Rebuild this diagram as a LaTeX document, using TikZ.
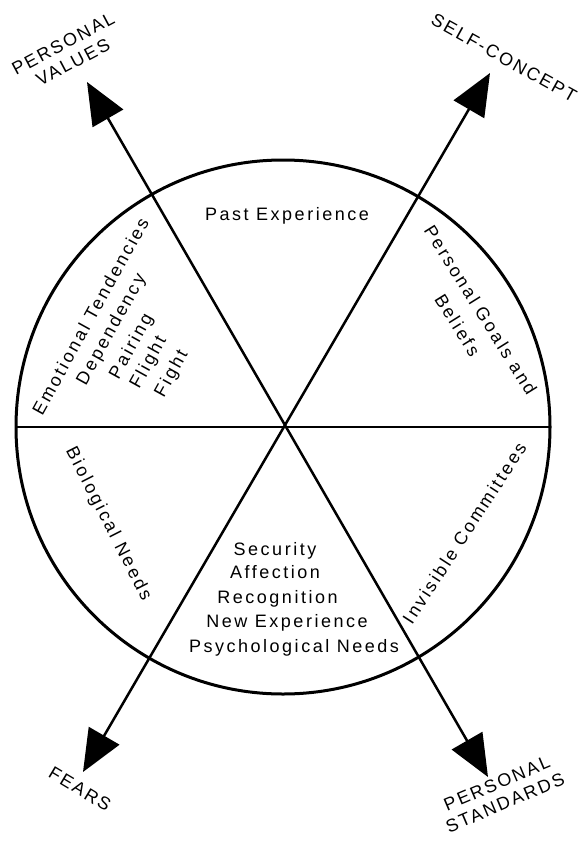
\documentclass[tikz,border=0pt]{standalone}
\usepackage{fontspec}
\setmainfont{Liberation Sans}
\newfontfamily\capsfont[LetterSpace=12]{Liberation Sans}
\newfontfamily\txtfont[LetterSpace=14]{Liberation Sans}
\usetikzlibrary{arrows.meta}
\begin{document}
\begin{tikzpicture}[x=1pt,y=-1pt,
  lbl/.style={font=\txtfont\fontsize{18}{24}\selectfont, inner sep=0pt, text height=13pt, text depth=4pt},
  caplbl/.style={font=\capsfont\fontsize{18}{21}\selectfont, inner sep=0pt, align=center},
  axisline/.style={line width=2.5pt, {Triangle[length=42pt,width=35pt]}-{Triangle[length=42pt,width=35pt]}},
]
\useasboundingbox (0,0) rectangle (581,843);
% wheel
\node[circle, draw, line width=3pt, minimum size=534pt, inner sep=0pt, outer sep=0pt] (wheel) at (283,427) {};
\draw[line width=2.6pt] (wheel.west) -- (wheel.east);
% axes
\coordinate (pv) at (87,82);
\coordinate (ps) at (488,777);
\coordinate (sc) at (490,73);
\coordinate (fe) at (83,772);
\draw[axisline] (pv) -- (ps);
\draw[axisline] (fe) -- (sc);
% outer labels
\node[caplbl, rotate=28] (pvl) at (68,53) {PERSONAL\\VALUES};
\node[caplbl, rotate=-29] (scl) at (504,58) {SELF-CONCEPT};
\node[caplbl, rotate=-31] (fel) at (80,789) {FEARS};
\node[caplbl, rotate=23] (psl) at (501,793) {PERSONAL\\STANDARDS};
% sector texts
\node[lbl, anchor=base] (past) at (287,220) {Past Experience};
\node[lbl, rotate=61] (em1) at (92,317) {Emotional Tendencies};
\node[lbl, rotate=61] (em2) at (112,330) {Dependency};
\node[lbl, rotate=61] (em3) at (132,347) {Pairing};
\node[lbl, rotate=61] (em4) at (149,363) {Flight};
\node[lbl, rotate=61] (em5) at (172,374) {Fight};
\node[lbl, rotate=-58] (pg1) at (479,311) {Personal Goals and};
\node[lbl, rotate=-58] (pg2) at (456,326) {Beliefs};
\node[lbl, rotate=-63] (bio) at (108,524) {Biological Needs};
\node[lbl, rotate=57] (inv) at (466,534) {Invisible Committees};
\node[lbl, anchor=base] (n1) at (275,555) {Security};
\node[lbl, anchor=base] (n2) at (275,578) {Affection};
\node[lbl, anchor=base] (n3) at (277.5,603) {Recognition};
\node[lbl, anchor=base] (n4) at (287,627) {New Experience};
\node[lbl, anchor=base] (n5) at (294,652) {Psychological Needs};
\end{tikzpicture}
\end{document}
